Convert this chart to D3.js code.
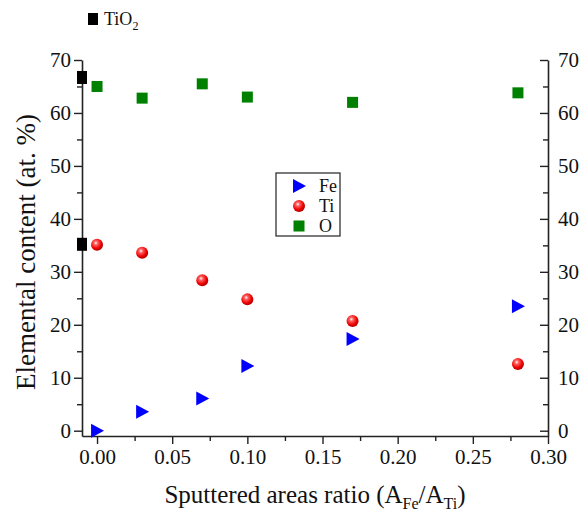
<!DOCTYPE html>
<html lang="en">
  <head>
    <meta charset="UTF-8" />
    <title>Elemental content vs sputtered areas ratio</title>
    <script src="https://cdn.jsdelivr.net/npm/d3@7/dist/d3.min.js"></script>
    <style>
      body {
        margin: 0;
        background: #ffffff;
        font-family: "Liberation Serif", "Times New Roman", serif;
      }
    </style>
  </head>
  <body>
    <div id="chart"></div>
    <script>
      // Data
      const ratios = [0.0, 0.03, 0.07, 0.1, 0.17, 0.28];
      const feValues = [0.0, 3.6, 6.1, 12.2, 17.3, 23.5];
      const tiValues = [35.1, 33.6, 28.4, 24.8, 20.7, 12.6];
      const oValues = [65.0, 62.8, 65.5, 63.0, 62.0, 63.8];
      const tio2X = -0.01;
      const tio2Values = [66.7, 35.2];
      const xTicks = [0, 0.05, 0.1, 0.15, 0.2, 0.25, 0.3];
      const yTicks = [0, 10, 20, 30, 40, 50, 60, 70];

      const W = 580,
        H = 514;
      const margin = { top: 60, right: 32, bottom: 78, left: 82 };
      const width = W - margin.left - margin.right;
      const height = H - margin.top - margin.bottom;

      const svg = d3
        .select("#chart")
        .append("svg")
        .attr("width", W)
        .attr("height", H);

      const defs = svg.append("defs");
      const grad = defs
        .append("radialGradient")
        .attr("id", "ball")
        .attr("cx", "40%")
        .attr("cy", "35%")
        .attr("r", "65%");
      grad.append("stop").attr("offset", "0%").attr("stop-color", "#ffffff");
      grad.append("stop").attr("offset", "25%").attr("stop-color", "#ff6060");
      grad.append("stop").attr("offset", "70%").attr("stop-color", "#ee0000");
      grad.append("stop").attr("offset", "100%").attr("stop-color", "#b00000");

      const g = svg
        .append("g")
        .attr("transform", `translate(${margin.left},${margin.top})`);

      const x = d3.scaleLinear().domain([-0.01, 0.3]).range([0, width]);
      const y = d3.scaleLinear().domain([-1, 70]).range([height, 0]);

      const font = '"Liberation Serif", "Times New Roman", serif';

      // Bottom axis
      g.append("g")
        .attr("transform", `translate(0,${height})`)
        .call(
          d3
            .axisBottom(x)
            .tickValues(xTicks)
            .tickFormat(d3.format(".2f"))
            .tickSizeInner(8)
            .tickSizeOuter(0)
            .tickPadding(5)
        );
      g.append("g")
        .attr("transform", `translate(0,${height})`)
        .call(
          d3
            .axisBottom(x)
            .tickValues(d3.range(0.025, 0.3, 0.05))
            .tickFormat("")
            .tickSizeInner(5)
            .tickSizeOuter(0)
        )
        .select(".domain")
        .remove();

      // Left axis
      g.append("g").call(
        d3
          .axisLeft(y)
          .tickValues(yTicks)
          .tickSizeInner(8)
          .tickSizeOuter(0)
          .tickPadding(3)
      );
      g.append("g")
        .call(
          d3
            .axisLeft(y)
            .tickValues(d3.range(5, 70, 10))
            .tickFormat("")
            .tickSizeInner(5)
            .tickSizeOuter(0)
        )
        .select(".domain")
        .remove();

      // Right axis (ticks inward, labels outside)
      g.append("g")
        .attr("transform", `translate(${width},0)`)
        .call(
          d3
            .axisRight(y)
            .tickValues(yTicks)
            .tickSizeInner(-8)
            .tickSizeOuter(0)
            .tickPadding(10)
        );
      g.append("g")
        .attr("transform", `translate(${width},0)`)
        .call(
          d3
            .axisRight(y)
            .tickValues(d3.range(5, 70, 10))
            .tickFormat("")
            .tickSizeInner(-5)
            .tickSizeOuter(0)
        )
        .select(".domain")
        .remove();

      g.selectAll(".domain").attr("stroke", "#222").attr("stroke-width", 1.6);
      g.selectAll(".tick line").attr("stroke", "#222").attr("stroke-width", 1.4);
      g.selectAll(".tick text")
        .style("font-family", font)
        .style("font-size", "21px")
        .attr("fill", "#111");

      // Axis titles
      const xt = svg
        .append("text")
        .attr("x", 315)
        .attr("y", 503)
        .attr("text-anchor", "middle")
        .style("font-family", font)
        .style("font-size", "25px")
        .attr("fill", "#111");
      xt.append("tspan").text("Sputtered areas ratio (A");
      xt.append("tspan").attr("dy", 6).style("font-size", "16px").text("Fe");
      xt.append("tspan").attr("dy", -6).text("/A");
      xt.append("tspan").attr("dy", 6).style("font-size", "16px").text("Ti");
      xt.append("tspan").attr("dy", -6).text(")");

      svg
        .append("text")
        .attr("transform", "translate(35,252) rotate(-90)")
        .attr("text-anchor", "middle")
        .style("font-family", font)
        .style("font-size", "27px")
        .attr("fill", "#111")
        .text("Elemental content (at. %)");

      // Markers
      const tri = (cx, cy) =>
        `M${cx - 6},${cy - 7}L${cx + 7},${cy}L${cx - 6},${cy + 7}Z`;

      g.selectAll(".o")
        .data(ratios)
        .enter()
        .append("rect")
        .attr("x", (d) => x(d) - 5.5)
        .attr("y", (d, i) => y(oValues[i]) - 5.5)
        .attr("width", 11)
        .attr("height", 11)
        .attr("fill", "#008000");

      g.selectAll(".ti")
        .data(ratios)
        .enter()
        .append("circle")
        .attr("cx", (d) => x(d))
        .attr("cy", (d, i) => y(tiValues[i]))
        .attr("r", 6)
        .attr("fill", "url(#ball)");

      g.selectAll(".fe")
        .data(ratios)
        .enter()
        .append("path")
        .attr("d", (d, i) => tri(x(d), y(feValues[i])))
        .attr("fill", "#0000ff");

      g.selectAll(".tio2")
        .data(tio2Values)
        .enter()
        .append("rect")
        .attr("x", x(tio2X) - 5)
        .attr("y", (d) => y(d) - 6.5)
        .attr("width", 10)
        .attr("height", 13)
        .attr("fill", "#000");

      // Legend box
      const leg = svg.append("g").attr("transform", "translate(276,173)");
      leg
        .append("rect")
        .attr("width", 64)
        .attr("height", 63)
        .attr("fill", "#fff")
        .attr("stroke", "#222")
        .attr("stroke-width", 1.2);
      const legItems = ["Fe", "Ti", "O"];
      legItems.forEach((name, i) => {
        const cy = 13 + i * 20;
        if (name === "Fe") leg.append("path").attr("d", tri(23, cy)).attr("fill", "#0000ff");
        if (name === "Ti") leg.append("circle").attr("cx", 23).attr("cy", cy).attr("r", 6).attr("fill", "url(#ball)");
        if (name === "O") leg.append("rect").attr("x", 17.5).attr("y", cy - 5.5).attr("width", 11).attr("height", 11).attr("fill", "#008000");
        leg
          .append("text")
          .attr("x", 43)
          .attr("y", cy + 6)
          .style("font-family", font)
          .style("font-size", "18px")
          .attr("fill", "#111")
          .text(name);
      });

      // TiO2 legend at top
      svg
        .append("rect")
        .attr("x", 88)
        .attr("y", 13)
        .attr("width", 10)
        .attr("height", 12)
        .attr("fill", "#000");
      const tl = svg
        .append("text")
        .attr("x", 104)
        .attr("y", 25)
        .style("font-family", font)
        .style("font-size", "18px")
        .attr("fill", "#111");
      tl.append("tspan").text("TiO");
      tl.append("tspan").attr("dy", 5).style("font-size", "12px").text("2");
    </script>
  </body>
</html>
